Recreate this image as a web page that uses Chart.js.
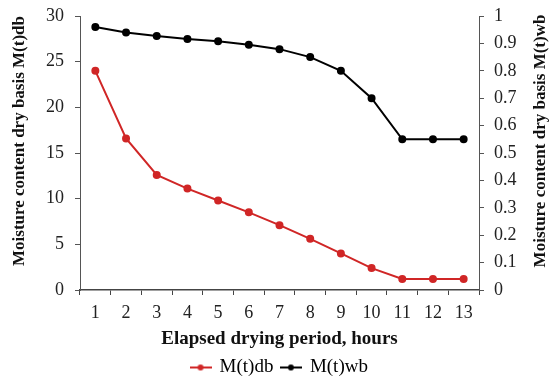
<!DOCTYPE html>
<html>
<head>
<meta charset="utf-8">
<script src="https://cdn.jsdelivr.net/npm/chart.js@4"></script>
<style>
  html, body { margin: 0; padding: 0; background: #fff; }
  #wrap { width: 559px; height: 387px; }
</style>
</head>
<body>
<div id="wrap"><canvas id="chart"></canvas></div>
<script>
const hours = ['1', '2', '3', '4', '5', '6', '7', '8', '9', '10', '11', '12', '13'];
const mtDb = [24.0, 16.6, 12.6, 11.1, 9.8, 8.5, 7.1, 5.6, 4.0, 2.4, 1.2, 1.2, 1.2];
const mtWb = [0.96, 0.94, 0.927, 0.916, 0.908, 0.895, 0.879, 0.85, 0.80, 0.70, 0.55, 0.55, 0.55];

const red = '#d02626';
const serif = "'Liberation Serif', 'Times New Roman', serif";

// little "line with dot" marker for the legend
function legendMark(color) {
  const c = document.createElement('canvas');
  c.width = 22; c.height = 10;
  const g = c.getContext('2d');
  g.strokeStyle = color;
  g.lineWidth = 2;
  g.beginPath();
  g.moveTo(0, 5); g.lineTo(22, 5);
  g.stroke();
  g.fillStyle = color;
  g.beginPath();
  g.arc(11, 5, 3, 0, Math.PI * 2);
  g.fill();
  return c;
}

// both y titles read bottom-to-top and sit a bit above the plot centre
const sideTitles = {
  id: 'sideTitles',
  afterDraw(chart) {
    const ctx = chart.ctx;
    const area = chart.chartArea;
    const cy = (area.top + area.bottom) / 2 - 12;
    ctx.save();
    ctx.font = 'bold 17px ' + serif;
    ctx.fillStyle = '#111';
    ctx.textAlign = 'center';
    ctx.textBaseline = 'middle';
    [[20, 'Moisture content dry basis M(t)db'], [541, 'Moisture content dry basis M(t)wb']].forEach(([x, t]) => {
      ctx.save();
      ctx.translate(x, cy);
      ctx.rotate(-Math.PI / 2);
      ctx.fillText(t, 0, 0);
      ctx.restore();
    });
    ctx.restore();
  }
};

function fixSide(scale) {
  scale.width = 80;
  scale.paddingTop = 16;
}

const ctx = document.getElementById('chart').getContext('2d');
new Chart(ctx, {
  type: 'line',
  data: {
    labels: hours,
    datasets: [
      {
        label: 'M(t)db',
        data: mtDb,
        yAxisID: 'y',
        borderColor: red,
        backgroundColor: red,
        borderWidth: 2,
        pointRadius: 3,
        pointHoverRadius: 3,
        tension: 0
      },
      {
        label: 'M(t)wb',
        data: mtWb,
        yAxisID: 'y1',
        borderColor: '#000',
        backgroundColor: '#000',
        borderWidth: 2,
        pointRadius: 3,
        pointHoverRadius: 3,
        tension: 0
      }
    ]
  },
  options: {
    responsive: true,
    maintainAspectRatio: false,
    animation: false,
    layout: { padding: { top: 0, left: 0, right: 0, bottom: 0 } },
    plugins: {
      tooltip: { enabled: false },
      legend: {
        position: 'bottom',
        labels: {
          font: { family: serif, size: 19 },
          color: '#111',
          padding: 8,
          boxWidth: 22,
          usePointStyle: true,
          generateLabels(chart) {
            return chart.data.datasets.map((ds, i) => ({
              text: ds.label,
              fillStyle: ds.borderColor,
              strokeStyle: ds.borderColor,
              pointStyle: legendMark(ds.borderColor),
              datasetIndex: i,
              hidden: false,
              lineWidth: 0
            }));
          }
        }
      }
    },
    scales: {
      x: {
        offset: true,
        grid: {
          display: true,
          drawOnChartArea: false,
          offset: true,
          tickLength: 5,
          color: '#444'
        },
        border: { display: true, color: '#444', width: 1.5 },
        ticks: { font: { family: serif, size: 18 }, color: '#222', padding: 7 },
        title: {
          display: true,
          text: 'Elapsed drying period, hours',
          font: { family: serif, size: 19, weight: 'bold' },
          color: '#111',
          padding: { top: 4, bottom: 0 }
        },
        afterFit(scale) { scale.height = 60; }
      },
      y: {
        position: 'left',
        min: 0,
        max: 30,
        ticks: { stepSize: 5, font: { family: serif, size: 18 }, color: '#222', padding: 11 },
        grid: { display: true, drawOnChartArea: false, tickLength: 5, color: '#555' },
        border: { display: true, color: '#555', width: 1 },
        afterFit: fixSide
      },
      y1: {
        position: 'right',
        min: 0,
        max: 1,
        ticks: {
          stepSize: 0.1,
          font: { family: serif, size: 18 },
          color: '#222',
          padding: 10,
          callback: (v) => String(Number(v.toFixed(1)))
        },
        grid: { display: true, drawOnChartArea: false, tickLength: 5, color: '#555' },
        border: { display: true, color: '#555', width: 1 },
        afterFit: fixSide
      }
    }
  },
  plugins: [sideTitles]
});
</script>
</body>
</html>
